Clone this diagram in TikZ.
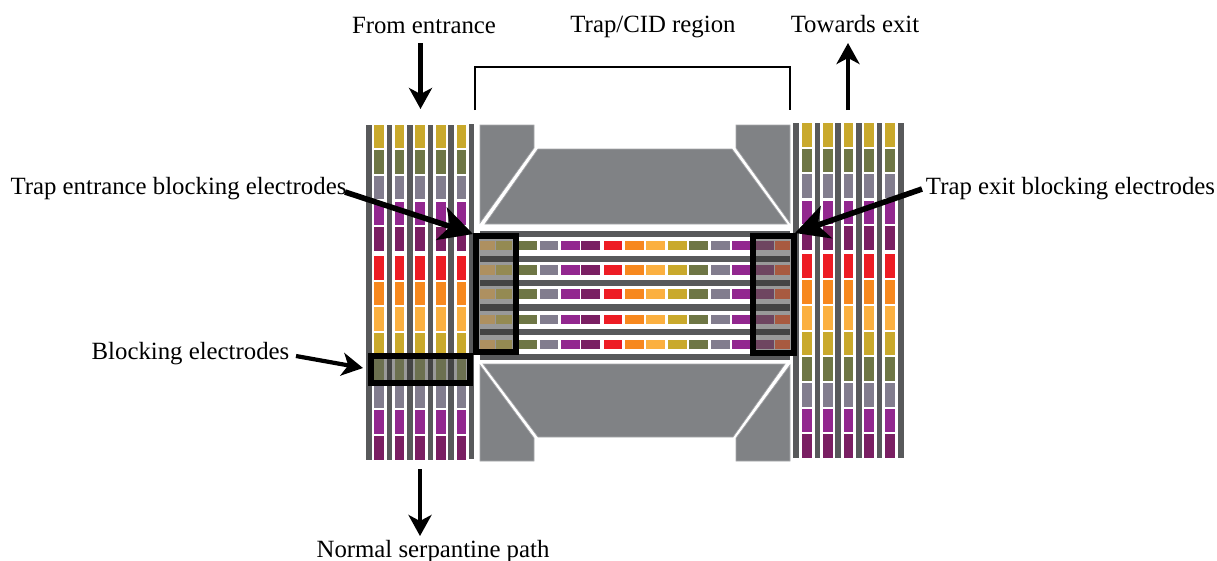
\documentclass[tikz,border=0pt]{standalone}
\usepackage{fontspec}
\setmainfont{Liberation Serif}
\usetikzlibrary{arrows.meta}
\definecolor{cYel}{HTML}{C9A92C}
\definecolor{cOli}{HTML}{6E7645}
\definecolor{cGry}{HTML}{827D8E}
\definecolor{cPur}{HTML}{92278F}
\definecolor{cDpu}{HTML}{7A1F63}
\definecolor{cRed}{HTML}{ED1C24}
\definecolor{cOra}{HTML}{F7881E}
\definecolor{cLor}{HTML}{FBB040}
\definecolor{cBar}{HTML}{58595B}
\definecolor{cTrap}{HTML}{808285}
\definecolor{cIn}{HTML}{999999}
\definecolor{cInBar}{HTML}{444444}
\tikzset{
  lab/.style={inner sep=0pt,anchor=base,font=\fontsize{24.8}{26}\selectfont,text=black},
  trapgrey/.style={fill=cTrap,draw=cTrap!70!white,line width=.7pt},
  blockbox/.style={draw=black,line width=6pt,miter limit=10},
  bigarrow/.style={draw=black,line width=4.2pt,-{Stealth[length=21pt,width=23pt,inset=6pt]}},
  fatarrow/.style={draw=black,line width=5.6pt,-{Stealth[length=33pt,width=34pt,inset=9pt]}},
  bracket/.style={draw=black,line width=1.5pt},
}
\begin{document}
\begin{tikzpicture}[x=1pt,y=-1pt]
\useasboundingbox (0,0) rectangle (1217,560);
% left serpentine block
\foreach \a/\b in {366/372,387/392,407/413,428/433,448/454}
  \fill[cBar] (\a,125) rectangle (\b,460);
\fill[cBar] (469,124) rectangle (474,459);
\foreach \a/\b in {374/384,395/404,415/425,436/446,457/466}
  \foreach \t/\u/\c in {125/148/cYel,150/174/cOli,176/199/cGry,202/225/cPur,227/251/cDpu,256/280/cRed,282/305/cOra,307/331/cLor,333/356/cYel,358/381/cOli,384/408/cGry,410/434/cPur,436/460/cDpu}
    \fill[\c] (\a,\t) rectangle (\b,\u);
% right serpentine block
\foreach \a/\b in {793/799,815/820,835/841,856/862,877/882,898/904}
  \fill[cBar] (\a,123) rectangle (\b,458);
\foreach \a/\b in {802/812,823/833,844/853,864/874,885/895}
  \foreach \t/\u/\c in {123/147/cYel,149/172/cOli,174/198/cGry,201/224/cPur,226/250/cDpu,254/278/cRed,280/304/cOra,306/330/cLor,332/355/cYel,357/381/cOli,383/407/cGry,409/432/cPur,434/458/cDpu}
    \fill[\c] (\a,\t) rectangle (\b,\u);
% trap electrodes
\path[trapgrey] (480,125) -- (534,125) -- (534,148) -- (480,223) -- cycle;
\path[trapgrey] (790,125) -- (736,125) -- (736,148) -- (790,223) -- cycle;
\path[trapgrey] (538,149) -- (732,149) -- (787,224) -- (485,224) -- cycle;
\path[trapgrey] (480,365) -- (534,438) -- (534,461) -- (480,461) -- cycle;
\path[trapgrey] (790,365) -- (736,438) -- (736,461) -- (790,461) -- cycle;
\path[trapgrey] (483,364) -- (785,364) -- (733,437) -- (538,437) -- cycle;
% central horizontal rails
\fill[cBar] (480,231) rectangle (790,237);
\foreach \t/\u in {256/262,280/286,304/311,329/335}
  \fill[cBar] (480,\t) rectangle (790,\u);
\fill[cBar] (480,354) rectangle (790,360);
% central electrodes
\foreach \t/\u in {241/250,265/275,289/299,315/324,340/349}
  \foreach \a/\b/\c in {519/537/cOli,540/558/cGry,561/580/cPur,581/600/cDpu,604/622/cRed,625/644/cOra,646/665/cLor,668/687/cYel,689/708/cOli,711/730/cGry,732/754/cPur}
    \fill[\c] (\a,\t) rectangle (\b,\u);
% entrance box contents
\fill[cIn] (477,236) rectangle (515,353);
\fill[cInBar] (480,256) rectangle (513,262);
\fill[cInBar] (480,280) rectangle (513,286);
\fill[cInBar] (480,304) rectangle (513,311);
\fill[cInBar] (480,329) rectangle (513,335);
\foreach \t/\u in {241/250,265/275,289/299,315/324,340/349}{
  \fill[fill={rgb,255:red,174;green,144;blue,96}] (480,\t) rectangle (495,\u);
  \fill[fill={rgb,255:red,148;green,138;blue,82}] (496,\t) rectangle (512,\u);
}
% exit box contents
\fill[cIn] (755,236) rectangle (792,353);
\fill[cInBar] (756,256) rectangle (790,262);
\fill[cInBar] (756,280) rectangle (790,286);
\fill[cInBar] (756,304) rectangle (790,311);
\fill[cInBar] (756,329) rectangle (790,335);
\foreach \t/\u in {241/250,265/275,289/299,315/324,340/349}{
  \fill[fill={rgb,255:red,110;green,69;blue,96}] (756,\t) rectangle (774,\u);
  \fill[fill={rgb,255:red,168;green,90;blue,64}] (775,\t) rectangle (790,\u);
}
% blocking box contents
\fill[cIn] (372,358) rectangle (469,382);
\foreach \a/\b in {387/392,407/413,428/433,448/454}
  \fill[cInBar] (\a,358) rectangle (\b,382);
\foreach \a/\b in {374/384,395/404,415/425,436/446,457/466}
  \fill[fill={rgb,255:red,108;green,112;blue,80}] (\a,358) rectangle (\b,381);
% labels
\node[lab] (lFrom) at (424,33) {From entrance};
\node[lab] (lTrap) at (653,32) {Trap/CID region};
\node[lab] (lExit) at (855,32) {Towards exit};
\node[lab] (lEnt) at (178.5,194) {Trap entrance blocking electrodes};
\node[lab] (lXit) at (1070.5,194) {Trap exit blocking electrodes};
\node[lab] (lBlk) at (190.5,359) {Blocking electrodes};
\node[lab] (lNorm) at (433,557) {Normal serpantine path};
% bracket
\coordinate (brA) at (475,110);
\coordinate (brB) at (475,67);
\coordinate (brC) at (790,67);
\coordinate (brD) at (790,110);
\draw[bracket] (brA) -- (brB) -- (brC) -- (brD);
% highlight boxes
\node[blockbox,inner sep=0pt,minimum width=39.5pt,minimum height=116.5pt] (boxEnt) at (495.75,293.75) {};
\node[blockbox,inner sep=0pt,minimum width=41pt,minimum height=117pt] (boxXit) at (773.5,294.5) {};
\node[blockbox,inner sep=0pt,minimum width=99.5pt,minimum height=27pt] (boxBlk) at (420.25,369.5) {};
% arrows
\coordinate (aFromS) at (420.5,43);
\coordinate (aFromE) at (420.5,109);
\coordinate (aExitS) at (848,110);
\coordinate (aExitE) at (848,43);
\coordinate (aNormS) at (420,469);
\coordinate (aNormE) at (420,536);
\coordinate (aEntS) at (345,192);
\coordinate (aEntE) at (473,234);
\coordinate (aXitS) at (922,189);
\coordinate (aXitE) at (795,233);
\coordinate (aBlkS) at (296,356);
\coordinate (aBlkE) at (363,368);
\draw[bigarrow] (aFromS) -- (aFromE);
\draw[bigarrow] (aExitS) -- (aExitE);
\draw[bigarrow] (aNormS) -- (aNormE);
\draw[bigarrow] (aBlkS) -- (aBlkE);
\draw[fatarrow] (aEntS) -- (aEntE);
\draw[fatarrow] (aXitS) -- (aXitE);
\end{tikzpicture}
\end{document}
